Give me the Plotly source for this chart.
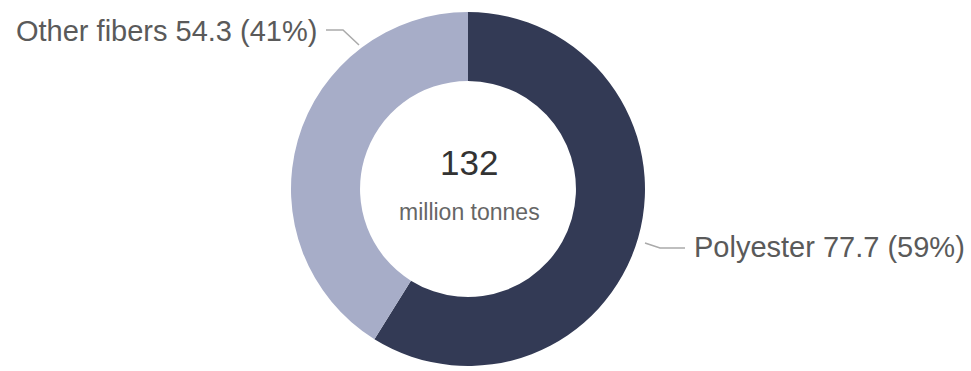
import plotly.graph_objects as go

labels = ["Polyester", "Other fibers"]
values = [77.7, 54.3]
shares = [59, 41]
total_value = 132
total_unit = "million tonnes"
colors = ["#333a55", "#a7adc8"]

W, H = 971, 371

def px(x):
    return x / W

def py(y):
    return 1 - y / H

fig = go.Figure(go.Pie(
    labels=labels,
    values=values,
    hole=0.61,
    sort=False,
    direction="clockwise",
    rotation=0,
    marker=dict(colors=colors, line=dict(width=0)),
    textinfo="none",
    hoverinfo="label+value+percent",
    domain=dict(x=[px(468) - 0.2, px(468) + 0.2], y=[py(366), py(12)]),
    showlegend=False,
))

label_font = dict(family="Liberation Sans, Arial, sans-serif", size=29, color="#5a5a5a")

fig.add_annotation(
    x=px(319), y=py(31), xref="paper", yref="paper",
    text=f"{labels[1]} {values[1]} ({shares[1]}%)",
    showarrow=False, xanchor="right", yanchor="middle", font=label_font,
)
fig.add_annotation(
    x=px(692), y=py(247), xref="paper", yref="paper",
    text=f"{labels[0]} {values[0]} ({shares[0]}%)",
    showarrow=False, xanchor="left", yanchor="middle", font=label_font,
)
fig.add_annotation(
    x=px(469), y=py(162), xref="paper", yref="paper",
    text=str(total_value), showarrow=False, xanchor="center", yanchor="middle",
    font=dict(family="Liberation Sans, Arial, sans-serif", size=35, color="#333333"),
)
fig.add_annotation(
    x=px(469), y=py(212), xref="paper", yref="paper",
    text=total_unit, showarrow=False, xanchor="center", yanchor="middle",
    font=dict(family="Liberation Sans, Arial, sans-serif", size=23, color="#666666"),
)

line_style = dict(color="#aaaaaa", width=1.5)
fig.add_shape(type="path", xref="paper", yref="paper",
              path=f"M {px(326)},{py(30)} L {px(343)},{py(30)} L {px(359)},{py(45)}",
              line=line_style)
fig.add_shape(type="path", xref="paper", yref="paper",
              path=f"M {px(645)},{py(243)} L {px(660)},{py(248)} L {px(685)},{py(248)}",
              line=line_style)

fig.update_layout(
    width=W, height=H,
    margin=dict(l=0, r=0, t=0, b=0),
    paper_bgcolor="white", plot_bgcolor="white",
)

fig.write_html("out.html")
